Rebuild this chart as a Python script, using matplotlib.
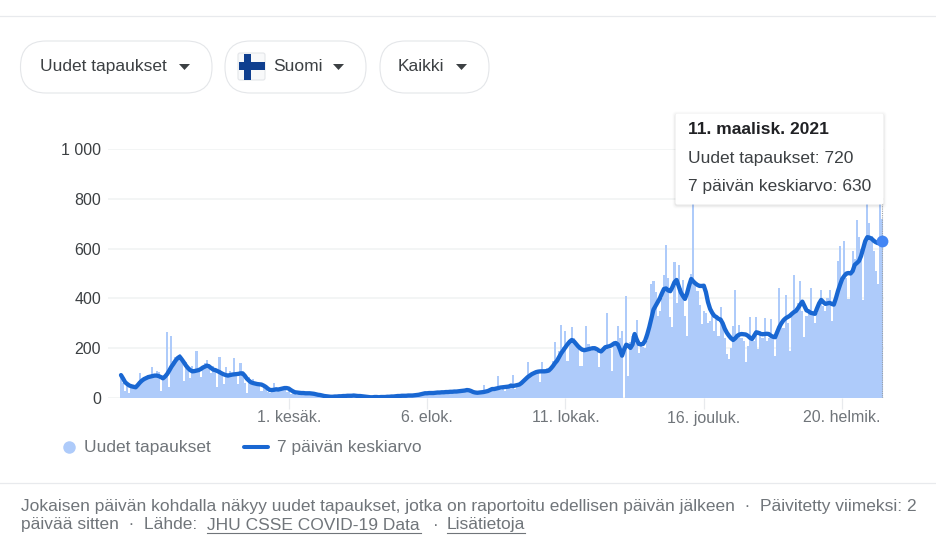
import matplotlib
matplotlib.use('Agg')
import matplotlib.pyplot as plt
from matplotlib.patches import FancyBboxPatch, Rectangle, Polygon

plt.rcParams['font.family'] = ['Liberation Sans', 'DejaVu Sans']

# Daily new cases (first day = 13 Mar 2020)
new_cases = [
    95, 60, 30, 52, 22, 45, 48, 40, 58, 100,
    72, 85, 78, 92, 88, 123, 95, 110, 105, 30,
    80, 88, 264, 45, 247, 150, 165, 170, 175, 160,
    68, 145, 118, 80, 130, 105, 190, 120, 85, 125,
    140, 153, 135, 100, 128, 118, 45, 163, 105, 55,
    123, 85, 110, 95, 160, 100, 55, 140, 95, 60,
    20, 85, 60, 75, 62, 48, 58, 30, 55, 38,
    25, 22, 35, 62, 40, 30, 42, 38, 44, 25,
    40, 18, 30, 20, 12, 25, 18, 22, 14, 20,
    24, 16, 20, 14, 18, 12, 10, 8, 9, 6,
    5, 7, 4, 9, 6, 8, 10, 7, 11, 9,
    8, 12, 6, 10, 7, 9, 5, 4, 6, 3,
    4, 5, 3, 6, 2, 5, 3, 8, 4, 6,
    7, 10, 12, 6, 8, 9, 14, 10, 7, 5,
    6, 9, 11, 14, 17, 22, 18, 20, 16, 19,
    24, 20, 26, 22, 28, 21, 25, 24, 34, 22,
    27, 29, 33, 25, 30, 36, 28, 22, 18, 24,
    22, 20, 26, 54, 25, 28, 24, 35, 30, 38,
    90, 34, 40, 28, 48, 42, 50, 94, 38, 45,
    55, 60, 70, 80, 146, 88, 95, 110, 100, 105,
    63, 146, 115, 120, 110, 125, 150, 224, 150, 190,
    293, 205, 268, 150, 230, 284, 240, 225, 200, 130,
    130, 195, 290, 215, 190, 205, 200, 185, 123, 190,
    205, 210, 340, 195, 110, 230, 215, 290, 240, 270,
    0, 409, 90, 225, 250, 230, 313, 180, 215, 205,
    200, 230, 300, 458, 469, 425, 330, 350, 400, 492,
    615, 480, 324, 284, 545, 380, 536, 440, 472, 330,
    250, 440, 500, 800, 470, 430, 374, 297, 351, 340,
    300, 310, 350, 270, 330, 250, 364, 300, 240, 177,
    157, 200, 290, 434, 250, 293, 240, 230, 146, 210,
    327, 250, 230, 327, 197, 270, 240, 320, 230, 240,
    317, 250, 170, 260, 442, 300, 280, 415, 300, 190,
    330, 492, 360, 380, 469, 350, 244, 330, 340, 441,
    350, 300, 340, 380, 435, 370, 350, 400, 434, 311,
    390, 400, 549, 612, 460, 630, 480, 398, 500, 590,
    560, 716, 646, 600, 394, 620, 800, 703, 650, 590,
    512, 458, 780, 720,
]

# 7 day average
avg_7d = [
    92, 78, 63, 56, 50, 47, 45, 43, 52, 62,
    70, 76, 80, 84, 86, 88, 90, 90, 88, 84,
    79, 86, 96, 110, 125, 137, 150, 160, 166, 155,
    143, 130, 120, 112, 107, 108, 110, 112, 116, 122,
    126, 130, 127, 120, 114, 112, 108, 104, 99, 95,
    92, 90, 92, 94, 95, 96, 97, 99, 99, 90,
    78, 70, 63, 60, 58, 56, 55, 54, 50, 45,
    38, 32, 32, 33, 35, 34, 36, 38, 40, 40,
    38, 32, 27, 23, 22, 21, 20, 20, 19, 19,
    19, 18, 17, 15, 13, 12, 10, 8, 7, 6,
    5, 5, 6, 6, 7, 7, 8, 8, 9, 9,
    9, 10, 9, 8, 8, 7, 6, 5, 4, 3,
    3, 4, 4, 3, 4, 4, 4, 5, 5, 6,
    6, 7, 8, 8, 9, 9, 9, 10, 10, 10,
    11, 12, 13, 15, 17, 19, 19, 20, 20, 20,
    21, 22, 22, 23, 23, 24, 24, 25, 25, 26,
    26, 27, 28, 29, 30, 32, 31, 28, 24, 22,
    21, 22, 23, 24, 26, 28, 32, 36, 36, 38,
    40, 42, 43, 44, 45, 46, 50, 48, 50, 52,
    54, 60, 68, 76, 84, 90, 96, 100, 104, 106,
    107, 107, 107, 108, 110, 118, 128, 140, 150, 165,
    180, 192, 204, 216, 226, 233, 228, 218, 208, 200,
    194, 192, 194, 196, 198, 200, 200, 196, 190, 187,
    195, 204, 206, 208, 212, 218, 221, 215, 195, 170,
    195, 214, 210, 201, 215, 257, 235, 217, 215, 217,
    230, 255, 285, 320, 355, 370, 385, 400, 420, 438,
    440, 432, 429, 445, 465, 474, 450, 425, 410, 398,
    420, 452, 478, 468, 460, 454, 450, 450, 451, 425,
    385, 358, 342, 330, 325, 318, 315, 300, 278, 262,
    250, 240, 233, 240, 250, 255, 257, 256, 255, 250,
    242, 237, 250, 264, 262, 258, 256, 257, 258, 257,
    250, 246, 244, 265, 285, 300, 312, 320, 325, 330,
    338, 345, 350, 362, 375, 387, 370, 352, 348, 342,
    340, 338, 360, 380, 394, 385, 378, 380, 382, 378,
    375, 400, 430, 455, 478, 490, 500, 502, 500, 510,
    535, 542, 550, 570, 600, 630, 646, 644, 640, 632,
    626, 622, 628, 630,
]

x_ticks = [80, 146, 212, 278, 344]
x_labels = ['1. kesäk.', '6. elok.', '11. lokak.', '16. jouluk.', '20. helmik.']
y_ticks = [0, 200, 400, 600, 800, 1000]
y_labels = ['0', '200', '400', '600', '800', '1 000']

W, H = 936, 540
GREY = '#70757a'
DARK = '#3c4043'
BAR = '#aecbfa'
LINE = '#1967d2'
DOT = '#4285f4'
FS = 12.5

fig = plt.figure(figsize=(W / 100, H / 100), dpi=100)

# Chart axes, placed in pixels
px_left, px_right, px_top, px_bottom = 108, 884, 149, 398
px_day = (882 - 121) / (len(new_cases) - 1)
ax = fig.add_axes([px_left / W, 1 - px_bottom / H, (px_right - px_left) / W, (px_bottom - px_top) / H])
ax.set_xlim((px_left - 121) / px_day, (px_right - 121) / px_day)
ax.set_ylim(0, 1000)

days = list(range(len(new_cases)))
ax.bar(days, new_cases, width=1.0, color=BAR, linewidth=0, zorder=2)
ax.plot(days, avg_7d, color=LINE, lw=3.1, solid_joinstyle='round', solid_capstyle='round', zorder=3)
ax.plot(days[-1], avg_7d[-1], 'o', color=DOT, ms=8.5, mew=0, zorder=4, clip_on=False)
ax.axvline(days[-1], color='#9aa0a6', lw=0.8, ls=(0, (1, 1)), zorder=3, ymax=0.78)

for s in ax.spines.values():
    s.set_visible(False)
ax.set_yticks(y_ticks, y_labels)
ax.set_xticks(x_ticks, x_labels)
ax.grid(axis='y', color='#f1f3f4', lw=1.2, zorder=0)
ax.set_axisbelow(True)
ax.tick_params(axis='y', length=0, pad=5, labelsize=11.5, labelcolor=DARK)
ax.tick_params(axis='x', length=8, width=0.9, color='#e8eaed', pad=1, labelsize=11.5, labelcolor=GREY)

# Overlay in pixel coordinates for the page furniture around the chart
ov = fig.add_axes([0, 0, 1, 1], zorder=5)
ov.set_xlim(0, W)
ov.set_ylim(H, 0)
ov.axis('off')
ov.patch.set_alpha(0)

ov.plot([0, W], [16, 16], color='#e8eaed', lw=0.9)
ov.plot([0, W], [483, 483], color='#e8eaed', lw=0.9)


def pill(x0, x1, label, text_x, caret_x):
    y0, y1 = 41, 93
    r = 25.5
    ov.add_patch(FancyBboxPatch((x0 + r, y0 + r), x1 - x0 - 2 * r, y1 - y0 - 2 * r,
                                boxstyle='round,pad=25.5,rounding_size=25.5',
                                fc='white', ec='#e4e6e9', lw=0.8))
    ov.text(text_x, 66.5, label, fontsize=FS, color=DARK, va='center', ha='left')
    ov.add_patch(Polygon([(caret_x, 64), (caret_x + 11, 64), (caret_x + 5.5, 70)], fc=DARK, ec='none'))


pill(20.5, 212, 'Uudet tapaukset', 40, 179)
pill(225, 366, 'Suomi', 273, 333)
pill(380, 489, 'Kaikki', 398, 456)

# Finnish flag
ov.add_patch(FancyBboxPatch((238, 53), 27, 27, boxstyle='round,pad=0,rounding_size=2',
                            fc='#f8f9fa', ec='#e4e6e9', lw=0.8))
ov.add_patch(Rectangle((238.5, 62), 26, 8, fc='#0f3f8f', ec='none'))
ov.add_patch(Rectangle((243.5, 53.5), 7.5, 26, fc='#0f3f8f', ec='none'))

# Tooltip with a soft shadow
for pad, alpha in ((3, 0.015), (2, 0.025), (1, 0.05)):
    ov.add_patch(FancyBboxPatch((675.5 - pad, 113.5 - pad + 1), 208 + 2 * pad, 91 + 2 * pad,
                                boxstyle='round,pad=0,rounding_size=3',
                                fc='black', ec='none', alpha=alpha))
ov.add_patch(FancyBboxPatch((675.5, 113.5), 208, 91, boxstyle='round,pad=0,rounding_size=2',
                            fc='white', ec='none'))
ov.text(688, 130, '11. maalisk. 2021', fontsize=FS, fontweight='bold', color='#202124', va='center')
ov.text(688, 158, 'Uudet tapaukset: 720', fontsize=FS, color=DARK, va='center')
ov.text(688, 187, '7 päivän keskiarvo: 630', fontsize=FS, color=DARK, va='center')

# Legend
ov.plot(69, 447, 'o', color=BAR, ms=9, mew=0)
ov.text(84, 447.5, 'Uudet tapaukset', fontsize=FS, color=GREY, va='center')
ov.plot([244, 268], [447, 447], color=LINE, lw=2.9, solid_capstyle='round')
ov.text(277, 447.5, '7 päivän keskiarvo', fontsize=FS, color=GREY, va='center')

# Footer
ov.text(21, 506, 'Jokaisen päivän kohdalla näkyy uudet tapaukset, jotka on raportoitu edellisen päivän jälkeen  ·  Päivitetty viimeksi: 2',
        fontsize=FS, color=GREY, va='center')
ov.text(21, 525, 'päivää sitten  ·  Lähde:', fontsize=FS, color=GREY, va='center')
ov.text(207, 525, 'JHU CSSE COVID-19 Data', fontsize=FS, color=GREY, va='center')
ov.text(433, 525, '·', fontsize=FS, color=GREY, va='center')
ov.text(447, 525, 'Lisätietoja', fontsize=FS, color=GREY, va='center')
ov.plot([207, 421], [533, 533], color=GREY, lw=0.8)
ov.plot([447, 525], [533, 533], color=GREY, lw=0.8)

fig.savefig('out.png', dpi=100, facecolor='white')
